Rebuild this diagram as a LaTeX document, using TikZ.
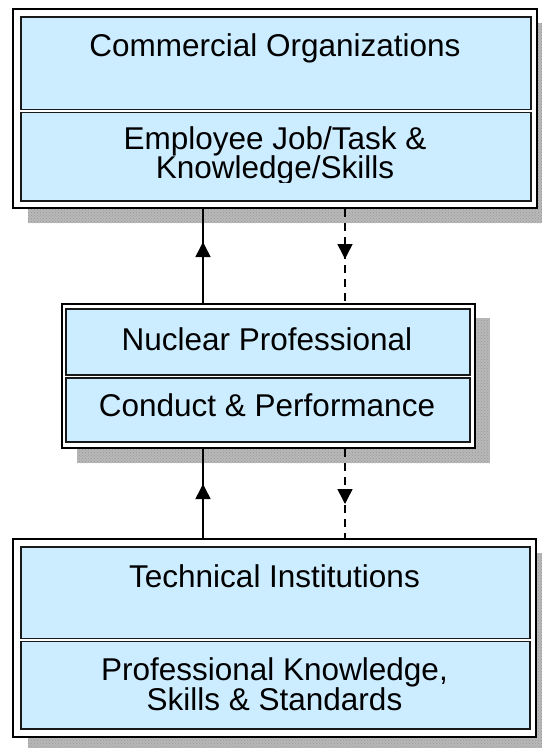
\documentclass[tikz,border=0pt]{standalone}
\usepackage{fontspec}
\setmainfont{Liberation Sans}
\usetikzlibrary{arrows.meta,decorations.markings,patterns}

\definecolor{cellblue}{HTML}{CCECFF}
\definecolor{shadowgray}{HTML}{B8B8B8}

% large sans text with tight, fixed line spacing
\newcommand{\boxfont}{\fontsize{31.5}{29.6}\selectfont\setlength{\lineskiplimit}{-100pt}\relax}

\tikzset{
  shadowrect/.style={fill=shadowgray, draw=none,
    postaction={pattern=crosshatch dots, pattern color=black!40}},
  framebox/.style={draw=black, line width=2pt, fill=white, rectangle,
    inner sep=0pt, anchor=north west},
  cellbox/.style={draw=black!90, line width=1.8pt, fill=cellblue, rectangle,
    inner sep=0pt, anchor=north west},
  celltext/.style={anchor=base, inner sep=0pt, align=center, font=\boxfont},
  link/.style={line width=1.5pt, draw=black},
  dashlink/.style={link, dash pattern=on 8pt off 6pt},
  tipmid/.style={postaction={decorate}, decoration={markings,
    mark=at position #1 with {\arrow{Triangle[length=15pt,width=15pt]}}}},
}

\begin{document}
\begin{tikzpicture}[x=1pt, y=-1pt]
  \useasboundingbox (0,0) rectangle (542,748);

  % drop shadows
  \fill[shadowrect] (28,23) rectangle (542,223);
  \fill[shadowrect] (77,318) rectangle (490,463);
  \fill[shadowrect] (28,553) rectangle (542,748);

  % upper block
  \node[framebox, minimum width=524pt, minimum height=199pt] (topframe) at (12,8) {};
  \node[cellbox, minimum width=510pt, minimum height=92.5pt] (topA) at (20,16) {};
  \node[cellbox, minimum width=510pt, minimum height=88.5pt] (topB) at (20,111.5) {};
  \node[celltext] (topAtext) at (275,56.7) {Commercial Organizations};
  \begin{scope}
    % the text frame of this cell cuts off the descenders of its last line
    \clip (20,111.5) rectangle (530,182);
    \node[celltext] (topBtext) at (275,178.8) {Employee Job/Task \&\\Knowledge/Skills};
  \end{scope}

  % middle block
  \node[framebox, minimum width=413pt, minimum height=144pt] (midframe) at (61,303) {};
  \node[cellbox, minimum width=404pt, minimum height=66pt] (midA) at (65,308) {};
  \node[cellbox, minimum width=404pt, minimum height=64pt] (midB) at (65,377) {};
  \node[celltext] (midAtext) at (267,350) {Nuclear Professional};
  \node[celltext] (midBtext) at (267,416.7) {Conduct \& Performance};

  % lower block
  \node[framebox, minimum width=523pt, minimum height=198pt] (botframe) at (12,538) {};
  \node[cellbox, minimum width=509pt, minimum height=91.5pt] (botA) at (20,546) {};
  \node[cellbox, minimum width=509pt, minimum height=87.5pt] (botB) at (20,640.5) {};
  \node[celltext] (botAtext) at (274.5,587) {Technical Institutions};
  \node[celltext] (botBtext) at (274.5,710) {Professional Knowledge,\\Skills \& Standards};

  % connector columns
  \coordinate (solidx) at (203,0);
  \coordinate (dashx) at (345,0);

  % connectors between blocks
  \draw[link, tipmid=61pt] (midframe.north -| solidx) -- (topframe.south -| solidx);
  \draw[dashlink, tipmid=50pt] (topframe.south -| dashx) -- (midframe.north -| dashx);
  \draw[link, tipmid=54pt] (botframe.north -| solidx) -- (midframe.south -| solidx);
  \draw[dashlink, tipmid=55pt] (midframe.south -| dashx) -- (botframe.north -| dashx);
\end{tikzpicture}
\end{document}
